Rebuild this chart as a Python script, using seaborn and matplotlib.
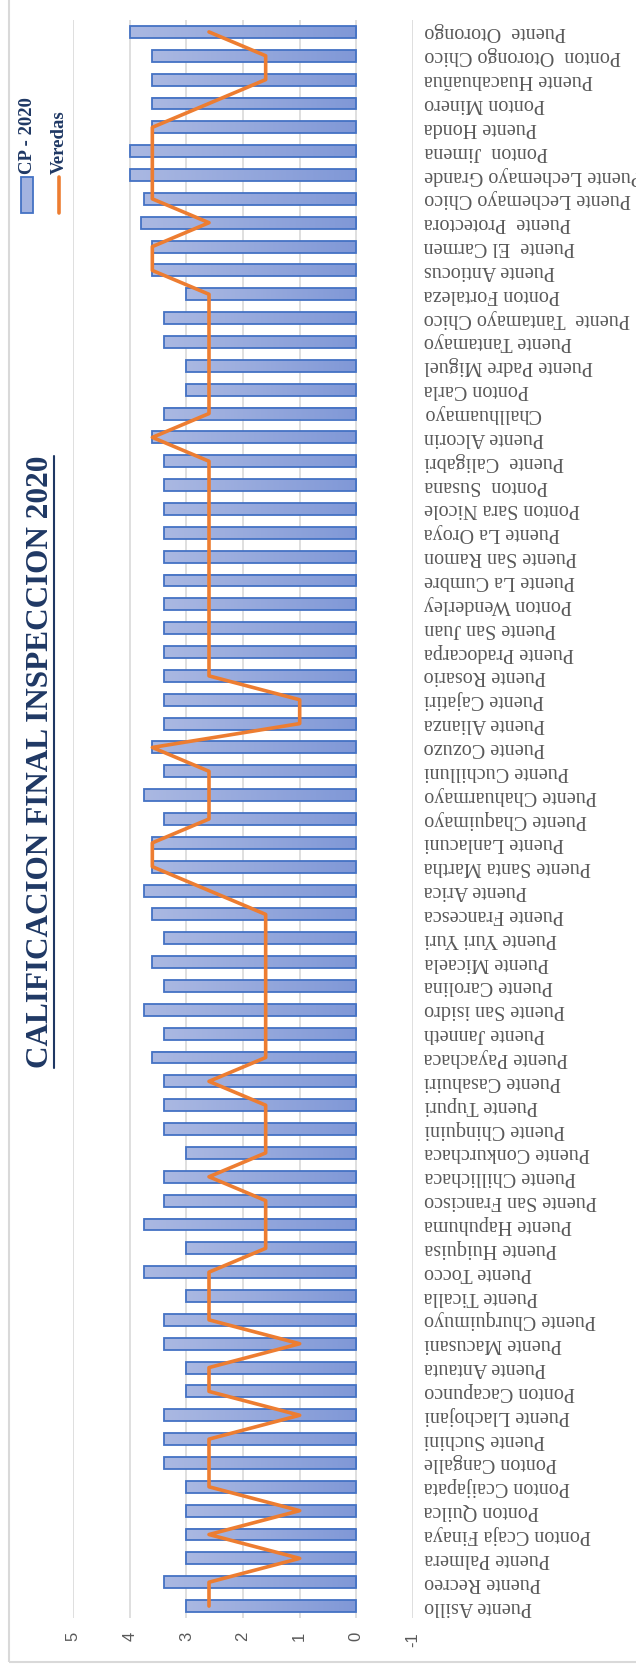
import numpy as np
import pandas as pd
import matplotlib
matplotlib.use("Agg")
import matplotlib.pyplot as plt
from matplotlib.patches import Rectangle
from matplotlib.lines import Line2D
import seaborn as sns

# ---------------- data (bottom -> top in the picture) ----------------
bridges = [
    "Puente Asillo", "Puente Recreo", "Puente Palmera", "Ponton Ccaja Finaya",
    "Ponton Quilca", "Ponton Ccaijapata", "Ponton Cangalle", "Puente Suchini",
    "Puente Llachojani", "Ponton Cacapunco", "Puente Antauta", "Puente Macusani",
    "Puente Churquimuyo", "Puente Ticalla", "Puente Tocco", "Puente Huiquisa",
    "Puente Hapuhuma", "Puente San Francisco", "Puente Chillichaca",
    "Puente Conkurchaca", "Puente Chinquini", "Puente Tupuri", "Puente Casahuiri",
    "Puente Payachaca", "Puente Janneth", "Puente San isidro", "Puente Carolina",
    "Puente Micaela", "Puente Yuri Yuri", "Puente Francesca", "Puente Arica",
    "Puente Santa Martha", "Puente Lanlacuni", "Puente Chaquimayo",
    "Puente Chahuarmayo", "Puente Cuchilluni", "Puente Cozuzo", "Puente Alianza",
    "Puente Cajatiri", "Puente Rosario", "Puente Pradocarpa", "Puente San Juan",
    "Ponton Wenderley", "Puente La Cumbre", "Puente San Ramon", "Puente La Oroya",
    "Ponton Sara Nicole", "Ponton  Susana", "Puente  Caligabri", "Puente Alcorin",
    "Challhuamayo", "Ponton Carla", "Puente Padre Miguel", "Puente Tantamayo",
    "Puente  Tantamayo Chico", "Ponton Fortaleza", "Puente Antiocus",
    "Puente  El Carmen", "Puente  Protectora", "Puente Lechemayo Chico",
    "Puente Lechemayo Grande", "Ponton  Jimena", "Puente Honda", "Ponton Minero",
    "Puente Huacahuañua", "Ponton  Otorongo Chico", "Puente  Otorongo",
]
cp_2020 = [
    3.0, 3.4, 3.0, 3.0, 3.0, 3.0, 3.4, 3.4, 3.4, 3.0, 3.0, 3.4, 3.4, 3.0, 3.75,
    3.0, 3.75, 3.4, 3.4, 3.0, 3.4, 3.4, 3.4, 3.6, 3.4, 3.75, 3.4, 3.6, 3.4, 3.6,
    3.75, 3.6, 3.6, 3.4, 3.75, 3.4, 3.6, 3.4, 3.4, 3.4, 3.4, 3.4, 3.4, 3.4, 3.4,
    3.4, 3.4, 3.4, 3.4, 3.6, 3.4, 3.0, 3.0, 3.4, 3.4, 3.0, 3.6, 3.6, 3.8, 3.75,
    4.0, 4.0, 3.6, 3.6, 3.6, 3.6, 4.0,
]
veredas = [
    2.6, 2.6, 1.0, 2.6, 1.0, 2.6, 2.6, 2.6, 1.0, 2.6, 2.6, 1.0, 2.6, 2.6, 2.6,
    1.6, 1.6, 1.6, 2.6, 1.6, 1.6, 1.6, 2.6, 1.6, 1.6, 1.6, 1.6, 1.6, 1.6, 1.6,
    2.6, 3.6, 3.6, 2.6, 2.6, 2.6, 3.6, 1.0, 1.0, 2.6, 2.6, 2.6, 2.6, 2.6, 2.6,
    2.6, 2.6, 2.6, 2.6, 3.6, 2.6, 2.6, 2.6, 2.6, 2.6, 2.6, 3.6, 3.6, 2.6, 3.6,
    3.6, 3.6, 3.6, 2.6, 1.6, 1.6, 2.6,
]
value_ticks = [5, 4, 3, 2, 1, 0, -1]
value_tick_labels = ["5", "4", "3", "2", "1", "0", "-1"]
title_text = "CALIFICACION FINAL INSPECCION 2020"
legend_bar = "CP - 2020"
legend_line = "Veredas"

# ---------------- styling ----------------
sns.set_style("white")
plt.rcParams["font.family"] = ["Liberation Serif", "DejaVu Serif"]

W, H, DPI = 636, 1666, 100
fig = plt.figure(figsize=(W / DPI, H / DPI), dpi=DPI)
fig.patch.set_facecolor("white")

# axes: value 5 at x=73px, -1 at x=413px; plot area y from 20px to 1618px
ax = fig.add_axes([73 / W, (H - 1618) / H, (413 - 73) / W, (1618 - 20) / H])

df = pd.DataFrame({"puente": bridges, "cp": cp_2020, "ver": veredas})
n = len(bridges)

BLUE_EDGE = "#4472C4"
LIGHT = np.array([0.667, 0.722, 0.886])   # tip of bar
DARK = np.array([0.502, 0.596, 0.843])    # base of bar
ORANGE = "#ED7D31"
NAVY = "#1F3864"
GRID = "#D9D9D9"
TXT = "#595959"

sns.barplot(data=df, x="cp", y="puente", orient="h", ax=ax, width=0.5,
            color="#97A9DD", saturation=1, edgecolor=BLUE_EDGE, linewidth=1.3)

# gradient fill inside each bar (dark at 0, light at the tip)
grad = np.linspace(0, 1, 64)
img = (DARK[None, :] * (1 - grad[:, None]) + LIGHT[None, :] * grad[:, None])[None, :, :]
for p in ax.patches:
    x0, y0 = p.get_x(), p.get_y()
    w, h = p.get_width(), p.get_height()
    ax.imshow(img, extent=(x0, x0 + w, y0 + h, y0), aspect="auto",
              interpolation="bilinear", zorder=2.4)
    p.set_facecolor("none")
    p.set_zorder(2.6)

sns.lineplot(x=df["ver"].to_numpy(), y=np.arange(n), orient="y", sort=False,
             estimator=None, color=ORANGE, linewidth=2.6, ax=ax, zorder=4)

ax.set_xlim(5, -1)
ax.set_ylim(-0.5, n - 0.5)
ax.set_xlabel("")
ax.set_ylabel("")
for s in ax.spines.values():
    s.set_visible(False)

ax.set_axisbelow(True)
ax.set_xticks(value_ticks)
ax.set_xticklabels(value_tick_labels, family="Liberation Sans", fontsize=12,
                   color=TXT, rotation=90)
ax.xaxis.grid(True, color=GRID, linewidth=1.2)
ax.yaxis.grid(False)
ax.tick_params(axis="x", length=0, pad=10)

ax.yaxis.tick_right()
ax.set_yticks(np.arange(n))
ax.set_yticklabels(bridges)
ax.tick_params(axis="y", length=0, pad=8, labelrotation=180,
               labelsize=14.5, labelcolor=TXT)
for lab in ax.get_yticklabels():
    lab.set_ha("left")
    lab.set_va("center")
    lab.set_family("Liberation Serif")

leg = ax.get_legend()
if leg is not None:
    leg.remove()

# chart frame (partly outside the image)
fig.add_artist(Rectangle((9 / W, 4 / H), 2, 2, transform=fig.transFigure,
                         fill=False, edgecolor=GRID, linewidth=1.5))

# title, rotated, with underline
title = fig.text(41 / W, (H - 762) / H, title_text, rotation=90, ha="center",
                 va="center", fontsize=22.5, fontweight="bold", color=NAVY,
                 family="Liberation Serif")

# legend (rotated)
fig.add_artist(Rectangle((21 / W, (H - 213) / H), 12 / W, 36 / H,
                         transform=fig.transFigure, facecolor="#A3B3E0",
                         edgecolor=BLUE_EDGE, linewidth=1.3))
fig.text(27 / W, (H - 174) / H, legend_bar, rotation=90, rotation_mode="anchor",
         ha="left", va="center", fontsize=13.5, fontweight="bold", color=NAVY,
         family="Liberation Serif")
fig.add_artist(Line2D([59 / W, 59 / W], [(H - 213) / H, (H - 177) / H],
                      transform=fig.transFigure, color=ORANGE, linewidth=2.6))
fig.text(59 / W, (H - 174) / H, legend_line, rotation=90, rotation_mode="anchor",
         ha="left", va="center", fontsize=13.5, fontweight="bold", color=NAVY,
         family="Liberation Serif")

fig.canvas.draw()
bb = title.get_window_extent(fig.canvas.get_renderer())
ux = (bb.x1 - 2) / W
fig.add_artist(Line2D([ux, ux], [bb.y0 / H, bb.y1 / H], transform=fig.transFigure,
                      color=NAVY, linewidth=1.5))

fig.savefig("out.png", dpi=DPI, facecolor="white")
